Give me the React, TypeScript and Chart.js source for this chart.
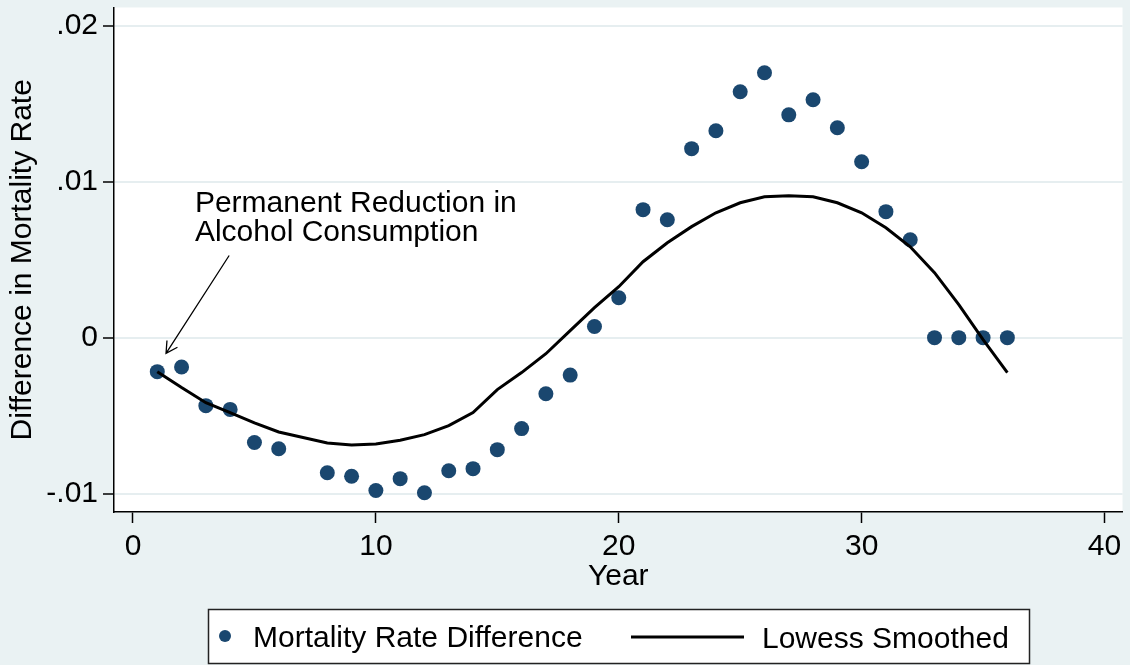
import React, { useEffect, useRef } from 'react';
import { Chart, registerables } from 'chart.js';

Chart.register(...registerables);

// ---- Data ----
const years = [1, 2, 3, 4, 5, 6, 8, 9, 10, 11, 12, 13, 14, 15, 16, 17, 18, 19, 20, 21, 22, 23, 24, 25, 26, 27, 28, 29, 30, 31, 32, 33, 34, 35, 36];
const mortalityDiff = [
  -0.00218, -0.00188, -0.00436, -0.00460, -0.00672, -0.00712, -0.00866, -0.00889, -0.00980, -0.00904,
  -0.00994, -0.00853, -0.00840, -0.00718, -0.00583, -0.00360, -0.00240, 0.00072, 0.00256, 0.00821,
  0.00756, 0.01212, 0.01327, 0.01577, 0.01699, 0.01429, 0.01526, 0.01346, 0.01128, 0.00808,
  0.00628, 0, 0, 0, 0,
];
const lowessSmoothed = [
  -0.00218, -0.00320, -0.00417, -0.00480, -0.00546, -0.00605, -0.00675, -0.00688, -0.00682, -0.00658,
  -0.00622, -0.00564, -0.00480, -0.00333, -0.00224, -0.00103, 0.00045, 0.00192, 0.00327, 0.00487,
  0.00609, 0.00712, 0.00801, 0.00865, 0.00904, 0.00910, 0.00904, 0.00865, 0.00801, 0.00705,
  0.00583, 0.00417, 0.00212, -0.00013, -0.00224,
];
const xTicks = [0, 10, 20, 30, 40];
const yTicks = [-0.01, 0, 0.01, 0.02];
const yTickLabels = ['-.01', '0', '.01', '.02'];
const seriesLabels = ['Mortality Rate Difference', 'Lowess Smoothed'];
const axisTitles = { x: 'Year', y: 'Difference in Mortality Rate' };
const annotationLines = ['Permanent Reduction in', 'Alcohol Consumption'];
// annotation anchor (data units): text start, arrow start, arrow tip
const annotationText = { x: 2.55, y: 0.00803 };
const arrowFrom = { x: 3.96, y: 0.00527 };
const arrowTo = { x: 1.36, y: -0.00101 };

const FONT = "'Liberation Sans', Arial, Helvetica, sans-serif";
const BG = '#EAF2F3';
const NAVY = '#1A476F';

const decorPlugin = {
  id: 'stataDecor',
  beforeDraw(chart: any) {
    const { ctx, chartArea } = chart;
    ctx.save();
    ctx.fillStyle = BG;
    ctx.fillRect(0, 0, chart.width, chart.height);
    ctx.fillStyle = '#FFFFFF';
    ctx.fillRect(chartArea.left, chartArea.top, chartArea.right - chartArea.left, chartArea.bottom - chartArea.top);
    ctx.restore();
  },
  afterDraw(chart: any) {
    const { ctx } = chart;
    const xs = chart.scales.x;
    const ys = chart.scales.y;
    ctx.save();
    // annotation text
    ctx.fillStyle = '#000';
    ctx.font = `30px ${FONT}`;
    ctx.textAlign = 'left';
    ctx.textBaseline = 'alphabetic';
    const tx = xs.getPixelForValue(annotationText.x);
    const ty = ys.getPixelForValue(annotationText.y);
    annotationLines.forEach((t, i) => ctx.fillText(t, tx, ty + i * 29));
    // arrow
    const ax0 = xs.getPixelForValue(arrowFrom.x);
    const ay0 = ys.getPixelForValue(arrowFrom.y);
    const ax1 = xs.getPixelForValue(arrowTo.x);
    const ay1 = ys.getPixelForValue(arrowTo.y);
    ctx.strokeStyle = '#000';
    ctx.lineWidth = 1.3;
    ctx.beginPath();
    ctx.moveTo(ax0, ay0);
    ctx.lineTo(ax1, ay1);
    const ang = Math.atan2(ay0 - ay1, ax0 - ax1);
    const hl = 13;
    const spread = 0.5;
    ctx.moveTo(ax1 + hl * Math.cos(ang - spread), ay1 + hl * Math.sin(ang - spread));
    ctx.lineTo(ax1, ay1);
    ctx.lineTo(ax1 + hl * Math.cos(ang + spread), ay1 + hl * Math.sin(ang + spread));
    ctx.stroke();

    // legend box
    const lx = 208.5, ly = 609.5, lw = 821, lh = 54;
    ctx.fillStyle = '#FFFFFF';
    ctx.fillRect(lx, ly, lw, lh);
    ctx.strokeStyle = '#222';
    ctx.lineWidth = 1.5;
    ctx.strokeRect(lx, ly, lw, lh);
    const cy = ly + lh / 2;
    ctx.fillStyle = NAVY;
    ctx.beginPath();
    ctx.arc(225, cy - 0.5, 6, 0, Math.PI * 2);
    ctx.fill();
    ctx.fillStyle = '#000';
    ctx.font = `30px ${FONT}`;
    ctx.textBaseline = 'alphabetic';
    ctx.fillText(seriesLabels[0], 253, cy + 10);
    ctx.strokeStyle = '#000';
    ctx.lineWidth = 3;
    ctx.beginPath();
    ctx.moveTo(631, cy + 0.5);
    ctx.lineTo(744, cy + 0.5);
    ctx.stroke();
    ctx.fillText(seriesLabels[1], 762, cy + 11);
    ctx.restore();
  },
};

export default function App() {
  const ref = useRef<HTMLCanvasElement | null>(null);

  useEffect(() => {
    document.body.style.margin = '0';
    document.body.style.background = BG;
    const canvas = ref.current;
    if (!canvas) return;
    Chart.defaults.font.family = FONT;
    const chart = new Chart(canvas, {
      type: 'scatter',
      data: {
        datasets: [
          {
            type: 'line',
            label: seriesLabels[1],
            data: years.map((x, i) => ({ x, y: lowessSmoothed[i] })),
            borderColor: '#000000',
            borderWidth: 3,
            pointRadius: 0,
            fill: false,
            tension: 0,
          } as any,
          {
            type: 'scatter',
            label: seriesLabels[0],
            data: years.map((x, i) => ({ x, y: mortalityDiff[i] })),
            backgroundColor: NAVY,
            borderColor: NAVY,
            borderWidth: 0,
            pointRadius: 7.5,
          },
        ],
      },
      options: {
        responsive: false,
        animation: false,
        maintainAspectRatio: false,
        layout: { padding: { left: 0, top: 7, right: 7, bottom: 0 } },
        plugins: {
          legend: { display: false },
          tooltip: { enabled: false },
        },
        scales: {
          x: {
            type: 'linear',
            min: -0.782,
            max: 40.74,
            afterBuildTicks: (s: any) => {
              s.ticks = xTicks.map((v) => ({ value: v }));
            },
            afterFit: (s: any) => {
              s.height = 153;
              s.paddingLeft = 0;
              s.paddingRight = 0;
            },
            grid: {
              drawOnChartArea: false,
              drawTicks: true,
              tickLength: 11,
              tickColor: '#000',
              tickWidth: 1.5,
            },
            border: { display: true, color: '#000', width: 1.5 },
            ticks: {
              color: '#000',
              font: { size: 30, family: FONT },
              padding: 5.6,
              maxRotation: 0,
              autoSkip: false,
              callback: (v: any) => String(v),
            },
            title: {
              display: true,
              text: axisTitles.x,
              color: '#000',
              font: { size: 30, family: FONT },
              padding: { top: 0, bottom: 70.7 },
            },
          },
          y: {
            type: 'linear',
            min: -0.011179,
            max: 0.021172,
            afterBuildTicks: (s: any) => {
              s.ticks = yTicks.map((v) => ({ value: v }));
            },
            afterFit: (s: any) => {
              s.width = 114;
              s.paddingTop = 0;
              s.paddingBottom = 0;
            },
            grid: {
              color: '#E6EEF0',
              lineWidth: 2,
              drawTicks: true,
              tickLength: 11,
              tickColor: '#000',
              tickWidth: 1.5,
            },
            border: { display: true, color: '#000', width: 1.5 },
            ticks: {
              color: '#000',
              font: { size: 30, family: FONT },
              padding: 5,
              autoSkip: false,
              callback: (v: any) => {
                const i = yTicks.findIndex((t) => Math.abs(t - Number(v)) < 1e-9);
                return i >= 0 ? yTickLabels[i] : '';
              },
            },
            title: {
              display: true,
              text: axisTitles.y,
              color: '#000',
              font: { size: 30, family: FONT },
              padding: { top: 5, bottom: 0 },
            },
          },
        },
      },
      plugins: [decorPlugin],
    });
    return () => chart.destroy();
  }, []);

  return (
    <div style={{ width: 1130, height: 665 }}>
      <canvas ref={ref} width={1130} height={665} style={{ display: 'block', width: 1130, height: 665 }} />
    </div>
  );
}
